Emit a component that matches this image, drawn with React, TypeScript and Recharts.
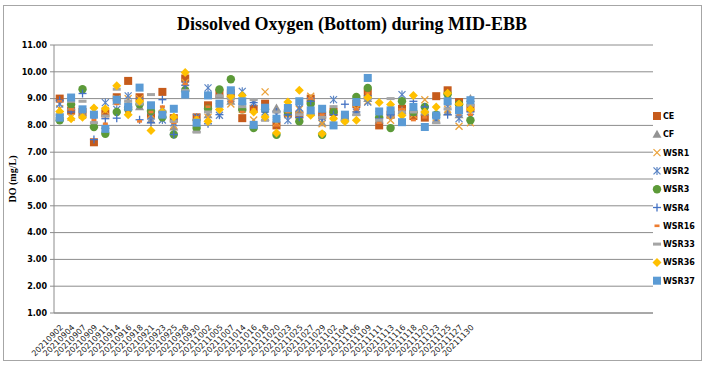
import React from "react";
import { ScatterChart, Scatter, XAxis, YAxis, CartesianGrid } from "recharts";

// Sampling dates (bottom DO, mid-ebb). The axis is wider than the data, as in the original sheet.
const CATEGORIES = [
  "20210902", "20210904", "20210907", "20210909", "20210911", "20210914", "20210916", "20210918",
  "20210921", "20210923", "20210925", "20210928", "20210930", "20211002", "20211005", "20211007",
  "20211014", "20211016", "20211018", "20211020", "20211023", "20211025", "20211027", "20211029",
  "20211102", "20211104", "20211106", "20211109", "20211111", "20211113", "20211116", "20211118",
  "20211120", "20211123", "20211125", "20211127", "20211130",
];

const CE = [9.0, 8.55, 8.5, 7.37, 8.45, 9.05, 9.66, 9.05, 8.4, 9.25, 8.27, 9.75, 8.3, 8.75, 9.2, 9.2, 8.27, 8.62, 8.81, 8.0, 8.45, 8.4, 9.0, 8.37, 8.5, 8.3, 8.8, 9.22, 8.0, 8.4, 8.62, 8.35, 8.29, 9.09, 9.31, 8.87, 8.65];
const CF = [8.4, 8.7, 8.45, 8.05, 8.0, 8.9, 8.8, 8.7, 8.2, 8.6, 7.94, 9.4, 7.87, 8.4, 9.15, 8.9, 8.66, 8.1, 8.3, 8.65, 8.5, 8.6, 8.5, 8.1, 8.59, 8.3, 8.5, 9.0, 8.2, 8.4, 8.55, 8.6, 8.5, 8.2, 8.5, 8.4, 9.0];
const WSR1 = [8.62, 8.3, 8.38, 8.55, 8.55, 9.0, 9.0, 9.0, 8.4, 8.45, 8.0, 9.6, 8.0, 8.3, 8.7, 8.8, 8.6, 8.2, 9.25, 8.1, 8.4, 8.6, 9.09, 8.06, 8.4, 8.3, 8.62, 8.9, 8.3, 8.19, 8.5, 8.4, 8.96, 8.3, 8.6, 7.97, 8.1];
const WSR2 = [8.8, 8.9, 8.4, 8.2, 8.85, 8.6, 9.1, 8.9, 8.34, 8.2, 8.1, 9.5, 8.3, 9.4, 8.38, 9.0, 9.27, 8.85, 8.5, 8.4, 8.19, 8.65, 8.9, 8.3, 8.96, 8.3, 8.5, 8.87, 8.4, 8.5, 9.15, 8.5, 8.6, 8.2, 8.7, 8.25, 8.3];
const WSR3 = [8.19, 8.78, 9.35, 7.94, 7.69, 8.5, 8.6, 8.79, 8.54, 8.3, 7.66, 9.3, 7.9, 8.62, 9.34, 9.72, 8.6, 7.9, 8.6, 7.65, 8.5, 8.15, 8.81, 7.65, 8.5, 8.2, 9.06, 9.4, 8.3, 7.9, 8.9, 8.5, 8.69, 8.4, 9.16, 8.79, 8.19];
const WSR4 = [8.94, 8.5, 9.19, 7.47, 8.25, 8.27, 8.7, 8.21, 8.1, 8.96, 7.66, 9.5, 8.2, 8.06, 8.4, 9.05, 8.8, 8.85, 8.5, 8.5, 8.4, 8.3, 8.9, 8.3, 8.4, 8.79, 8.5, 9.1, 8.25, 8.4, 8.5, 8.9, 8.69, 8.3, 8.4, 8.6, 8.5];
const WSR16 = [8.9, 8.6, 8.5, 8.2, 8.06, 8.8, 8.5, 8.15, 8.5, 8.7, 8.1, 9.55, 8.3, 8.7, 8.7, 8.9, 8.5, 8.6, 8.7, 8.0, 8.5, 8.4, 9.0, 8.4, 8.2, 8.3, 8.6, 9.2, 8.1, 8.5, 8.6, 8.2, 8.3, 8.7, 8.8, 8.42, 8.4];
const WSR33 = [8.4, 8.9, 8.9, 8.1, 8.35, 9.35, 8.9, 8.8, 9.15, 8.5, 8.15, 9.3, 7.75, 8.5, 9.1, 9.0, 8.7, 8.96, 8.19, 8.5, 8.55, 8.4, 8.4, 8.3, 8.7, 8.2, 8.4, 9.0, 8.2, 9.0, 8.5, 8.5, 8.5, 8.1, 8.62, 8.5, 8.75];
const WSR36 = [8.52, 8.25, 8.3, 8.65, 8.62, 9.48, 8.4, 8.9, 7.81, 8.5, 8.31, 9.97, 8.2, 8.15, 8.59, 9.09, 9.12, 8.5, 8.31, 7.72, 8.87, 9.31, 8.38, 7.69, 8.25, 8.15, 8.19, 9.04, 8.85, 8.78, 8.37, 9.12, 8.5, 8.69, 9.2, 8.8, 8.6];
const WSR37 = [8.29, 9.04, 8.6, 8.4, 7.87, 8.96, 8.69, 9.41, 8.75, 8.4, 8.62, 9.15, 8.1, 9.12, 8.81, 9.31, 8.9, 8.02, 8.66, 8.25, 8.65, 8.9, 8.56, 8.62, 8.0, 8.4, 8.87, 9.77, 8.52, 8.56, 8.12, 8.69, 7.94, 8.37, 8.9, 8.56, 8.94];

const Y_TICKS = [1, 2, 3, 4, 5, 6, 7, 8, 9, 10, 11];
const X_TICKS = CATEGORIES.map((_, i) => i);

type Kind = "square" | "triangle" | "x" | "asterisk" | "circle" | "plus" | "shortDash" | "longDash" | "diamond";

const SERIES: { name: string; values: number[]; color: string; kind: Kind }[] = [
  { name: "CE", values: CE, color: "#C65B1B", kind: "square" },
  { name: "CF", values: CF, color: "#939393", kind: "triangle" },
  { name: "WSR1", values: WSR1, color: "#EBA23A", kind: "x" },
  { name: "WSR2", values: WSR2, color: "#5A84C4", kind: "asterisk" },
  { name: "WSR3", values: WSR3, color: "#5C9A38", kind: "circle" },
  { name: "WSR4", values: WSR4, color: "#4472C4", kind: "plus" },
  { name: "WSR16", values: WSR16, color: "#ED7D31", kind: "shortDash" },
  { name: "WSR33", values: WSR33, color: "#A5A5A5", kind: "longDash" },
  { name: "WSR36", values: WSR36, color: "#FFC000", kind: "diamond" },
  { name: "WSR37", values: WSR37, color: "#5B9BD5", kind: "square" },
];

const GRID = "#8c8c8c";
const SANS = "'DejaVu Sans', Verdana, sans-serif";
const SERIF = "'Liberation Serif', 'Times New Roman', serif";

function Marker({ kind, cx, cy, color }: { kind: Kind; cx: number; cy: number; color: string }) {
  switch (kind) {
    case "square":
      return <rect x={cx - 4} y={cy - 4} width={8} height={8} fill={color} />;
    case "triangle":
      return <polygon points={`${cx},${cy - 4.5} ${cx + 4.5},${cy + 3.5} ${cx - 4.5},${cy + 3.5}`} fill={color} />;
    case "x":
      return (
        <g stroke={color} strokeWidth={1.3}>
          <line x1={cx - 3.5} y1={cy - 3.5} x2={cx + 3.5} y2={cy + 3.5} />
          <line x1={cx - 3.5} y1={cy + 3.5} x2={cx + 3.5} y2={cy - 3.5} />
        </g>
      );
    case "asterisk":
      return (
        <g stroke={color} strokeWidth={1.2}>
          <line x1={cx - 3.5} y1={cy - 3.5} x2={cx + 3.5} y2={cy + 3.5} />
          <line x1={cx - 3.5} y1={cy + 3.5} x2={cx + 3.5} y2={cy - 3.5} />
          <line x1={cx} y1={cy - 4} x2={cx} y2={cy + 4} />
        </g>
      );
    case "circle":
      return <circle cx={cx} cy={cy} r={4.2} fill={color} />;
    case "plus":
      return (
        <g stroke={color} strokeWidth={1.3}>
          <line x1={cx - 4} y1={cy} x2={cx + 4} y2={cy} />
          <line x1={cx} y1={cy - 4} x2={cx} y2={cy + 4} />
        </g>
      );
    case "shortDash":
      return <rect x={cx - 2.5} y={cy - 1.3} width={5} height={2.6} fill={color} />;
    case "longDash":
      return <rect x={cx - 4} y={cy - 1.5} width={8} height={3} fill={color} />;
    case "diamond":
      return <polygon points={`${cx},${cy - 4.5} ${cx + 4.5},${cy} ${cx},${cy + 4.5} ${cx - 4.5},${cy}`} fill={color} />;
  }
  return null;
}

function DateTick({ x, y, payload }: any) {
  const label = CATEGORIES[payload.value] ?? "";
  const ax = x + 4;
  const ay = y + 7;
  return (
    <text x={ax} y={ay} textAnchor="end" fontSize={8} fontFamily={SANS} fill="#222" transform={`rotate(-45, ${ax}, ${ay})`}>
      {label}
    </text>
  );
}

export default function App() {
  return (
    <div style={{ position: "relative", width: 707, height: 369, background: "#fff" }}>
      <style>{`body{margin:0}`}</style>
      <ScatterChart width={707} height={369} margin={{ top: 45, right: 54, bottom: 6, left: 0 }}>
        <CartesianGrid horizontal vertical={false} stroke={GRID} strokeWidth={1} />
        <XAxis
          type="number"
          dataKey="x"
          domain={[-0.5, 51.7]}
          ticks={X_TICKS}
          interval={0}
          tick={<DateTick />}
          tickLine={false}
          axisLine={{ stroke: GRID }}
          height={50}
          allowDecimals={false}
        />
        <YAxis
          type="number"
          dataKey="y"
          domain={[1, 11]}
          ticks={Y_TICKS}
          interval={0}
          width={54}
          tickFormatter={(v: number) => v.toFixed(2)}
          tick={{ fontSize: 8, fontFamily: SANS, fill: "#000", fontWeight: 600 }}
          tickSize={4}
          tickMargin={3}
          tickLine={{ stroke: GRID }}
          axisLine={{ stroke: GRID }}
        />
        {SERIES.map((s) => (
          <Scatter
            key={s.name}
            name={s.name}
            data={s.values.map((v, i) => ({ x: i, y: v }))}
            isAnimationActive={false}
            shape={(p: any) => <Marker kind={s.kind} cx={p.cx} cy={p.cy} color={s.color} />}
          />
        ))}
      </ScatterChart>
      <svg width={707} height={369} style={{ position: "absolute", left: 0, top: 0, pointerEvents: "none" }}>
        <rect x={3.5} y={5.5} width={698} height={355} fill="none" stroke="#a6a6a6" />
        <text x={352} y={30} textAnchor="middle" fontFamily={SERIF} fontWeight="bold" fontSize={18} fill="#000">
          Dissolved Oxygen (Bottom) during MID-EBB
        </text>
        <text x={16} y={179} textAnchor="middle" fontFamily={SERIF} fontWeight="bold" fontSize={10} fill="#000" transform="rotate(-90, 16, 179)">
          DO (mg/L)
        </text>
        {SERIES.map((s, i) => {
          const cy = 116 + i * 18.3;
          return (
            <g key={s.name}>
              <Marker kind={s.kind} cx={657} cy={cy} color={s.color} />
              <text x={663} y={cy + 3} fontFamily={SANS} fontSize={8} fontWeight={600} fill="#000">
                {s.name}
              </text>
            </g>
          );
        })}
      </svg>
    </div>
  );
}
